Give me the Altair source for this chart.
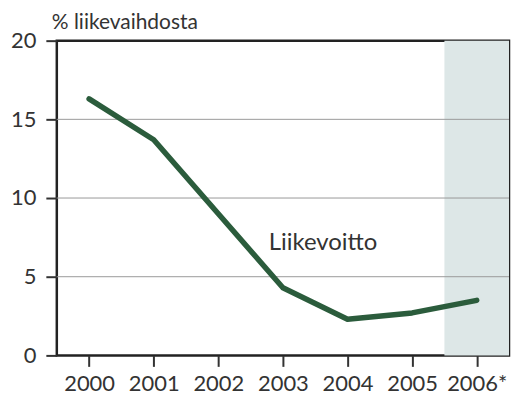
import altair as alt
import pandas as pd

years = ["2000", "2001", "2002", "2003", "2004", "2005", "2006*"]
values = [16.3, 13.7, 9.0, 4.3, 2.3, 2.7, 3.5]
y_ticks = [0, 5, 10, 15, 20]
grid_values = [5, 10, 15]
shade_start = [5.5]
shade_end = [6.5]
label_text = ["Liikevoitto"]

FONT = "Lato"
TXT = "#333333"

df = pd.DataFrame({"i": list(range(len(years))), "year": years, "v": values})
shade = pd.DataFrame({"x": shade_start, "x2": shade_end, "y": [0], "y2": [20]})
grid = pd.DataFrame({"g": grid_values})
lab = pd.DataFrame({"x": [2.78], "y": [7.15], "t": label_text})

label_expr = "[" + ",".join(f"'{y}'" for y in years) + "][datum.value]"

xs = alt.Scale(domain=[-0.5, len(years) - 0.5], nice=False, zero=False)
ys = alt.Scale(domain=[0, 20], nice=False)

xaxis = alt.Axis(values=list(range(len(years))), labelExpr=label_expr, title=None,
                 grid=False, domain=False, tickSize=11, tickWidth=2, tickColor="#333333",
                 labelFontSize=22, labelFont=FONT, labelColor=TXT, labelPadding=7)
yaxis = alt.Axis(values=y_ticks, title=None, grid=False, domain=False, tickSize=11,
                 tickWidth=2, tickColor="#333333", labelFontSize=22, labelFont=FONT,
                 labelColor=TXT, labelPadding=10)

rect = alt.Chart(shade).mark_rect(color="#dde7e7").encode(
    x=alt.X("x:Q", scale=xs, axis=xaxis), x2="x2:Q",
    y=alt.Y("y:Q", scale=ys, axis=yaxis), y2="y2:Q")

rules = alt.Chart(grid).mark_rule(color="#999999", strokeWidth=1).encode(
    y=alt.Y("g:Q", scale=ys))

line = alt.Chart(df).mark_line(color="#2b5c3c", strokeWidth=5.5, strokeCap="round",
                               strokeJoin="round").encode(
    x=alt.X("i:Q", scale=xs), y=alt.Y("v:Q", scale=ys))

text = alt.Chart(lab).mark_text(align="left", baseline="middle", fontSize=24, font=FONT,
                                color=TXT).encode(
    x=alt.X("x:Q", scale=xs), y=alt.Y("y:Q", scale=ys), text="t:N")

chart = alt.layer(rect, rules, line, text).properties(
    width=454, height=316,
    title=alt.TitleParams("% liikevaihdosta", anchor="start", frame="group", fontSize=21,
                          font=FONT, fontWeight="normal", color=TXT, offset=-3, dx=-5),
    padding={"left": 49, "top": 32, "right": 2, "bottom": 45},
    autosize=alt.AutoSizeParams(type="none"),
).configure_view(stroke="#222222", strokeWidth=2.5)

chart.save("out.html", embed_options={"renderer": "svg", "actions": False})
